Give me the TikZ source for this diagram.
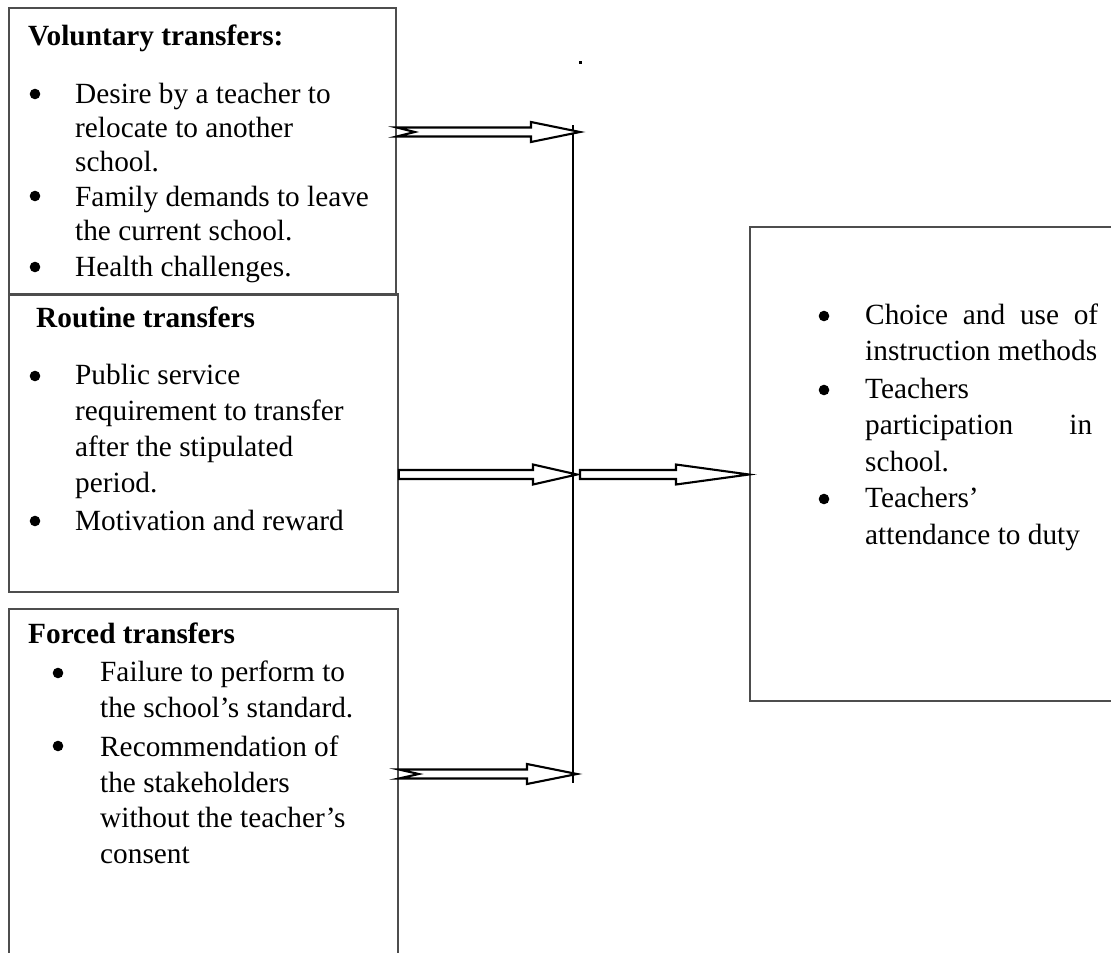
\documentclass[tikz,border=0pt]{standalone}
\usepackage{fontspec}
\setmainfont{Liberation Serif}
\usetikzlibrary{calc}
\definecolor{boxgray}{HTML}{4D4D4D}
\tikzset{
  box/.style={draw=boxgray, line width=1.8pt, anchor=north west, inner sep=0pt},
  blk/.style={draw=black, line width=2.1pt, fill=white, line join=miter},
  txt/.style={inner sep=0pt, anchor=base west, align=left},
  hd/.style={inner sep=0pt, anchor=base west, font=\fontsize{29.3}{35}\selectfont\bfseries},
  bul/.style={fill=black},
}
\newcommand\blockarr[4]{%
  \draw[blk] let \p1=(#1), \p2=(#2) in
   (\x1,\y1+4.5pt) -- (\x2-#3pt,\y1+4.5pt) -- (\x2-#3pt,\y1+10pt) -- (\x2,\y1)
   -- (\x2-#3pt,\y1-10pt) -- (\x2-#3pt,\y1-4.5pt) -- (\x1,\y1-4.5pt) -- (\x1+#4pt,\y1) -- cycle;}
\begin{document}
\begin{tikzpicture}[x=1pt,y=-1pt]
\useasboundingbox (0,0) rectangle (1111,953);
\clip (0,0) rectangle (1111,953);
% boxes
\node[box, minimum width=389pt, minimum height=298pt] (box2) at (8,293) {};
\node[box, minimum width=387pt, minimum height=287pt] (box1) at (8,7) {};
\node[box, minimum width=389pt, minimum height=380pt] (box3) at (8,608) {};
\node[box, minimum width=380pt, minimum height=474pt] (out) at (749,226) {};
% box 1 text (anchors at last baselines)
\node[hd] (h1) at (28,45) {Voluntary transfers:};
\begin{scope}[every node/.append style={font=\fontsize{29.3}{34}\selectfont}]
\node[txt] (v1) at (75,171) {Desire by a teacher to\\relocate to another\\school.};
\node[txt] (v2) at (75,240) {Family demands to leave\\the current school.};
\node[txt] (v3) at (75,276) {Health challenges.};
\end{scope}
\fill[bul] (35,94) circle (5.3pt) (35,196) circle (5.3pt) (35,267) circle (5.3pt);
% box 2 text
\node[hd] (h2) at (36,327) {Routine transfers};
\begin{scope}[every node/.append style={font=\fontsize{29.3}{35.7}\selectfont}]
\node[txt] (r1) at (75,492) {Public service\\requirement to transfer\\after the stipulated\\period.};
\node[txt] (r2) at (75,530) {Motivation and reward};
\end{scope}
\fill[bul] (35,376) circle (5.3pt) (35,521) circle (5.3pt);
% box 3 text
\node[hd] (h3) at (28,643) {Forced transfers};
\begin{scope}[every node/.append style={font=\fontsize{29.3}{35.5}\selectfont}]
\node[txt] (f1) at (100,717) {Failure to perform to\\the school’s standard.};
\node[txt] (f2) at (100,863) {Recommendation of\\the stakeholders\\without the teacher’s\\consent};
\end{scope}
\fill[bul] (58,673) circle (5.3pt) (58,746) circle (5.3pt);
% right box text
\begin{scope}[every node/.append style={font=\fontsize{29.3}{36.5}\selectfont}]
\node[txt] (o1) at (865,360.5) {\hbox to 233pt{Choice\hfill and\hfill use\hfill of}\\instruction methods};
\node[txt] (o2) at (865,471) {Teachers\\\hbox to 227pt{participation\hfill in}\\school.};
\node[txt, font=\fontsize{29.3}{37.5}\selectfont] (o3) at (865,544.5) {Teachers’\\attendance to duty};
\end{scope}
\fill[bul] (824,316) circle (5.3pt) (824,390) circle (5.3pt) (824,499) circle (5.3pt);
% stray dot
\fill (579,61) rectangle (582,64);
% vertical collector line
\coordinate (vt) at (573,125);
\coordinate (vb) at (573,783);
\draw[line width=2.2pt] (vt) -- (vb);
% arrows
\coordinate (t1) at (580,132);
\coordinate (t2) at (577,474.5);
\coordinate (s3) at (580,474.5);
\coordinate (t4) at (577,774);
\blockarr{box1.east |- t1}{t1}{49}{18}
\blockarr{box2.east |- t2}{t2}{44}{0}
\blockarr{s3}{out.west |- s3}{73}{0}
\blockarr{box3.east |- t4}{t4}{50}{20}
\end{tikzpicture}
\end{document}
